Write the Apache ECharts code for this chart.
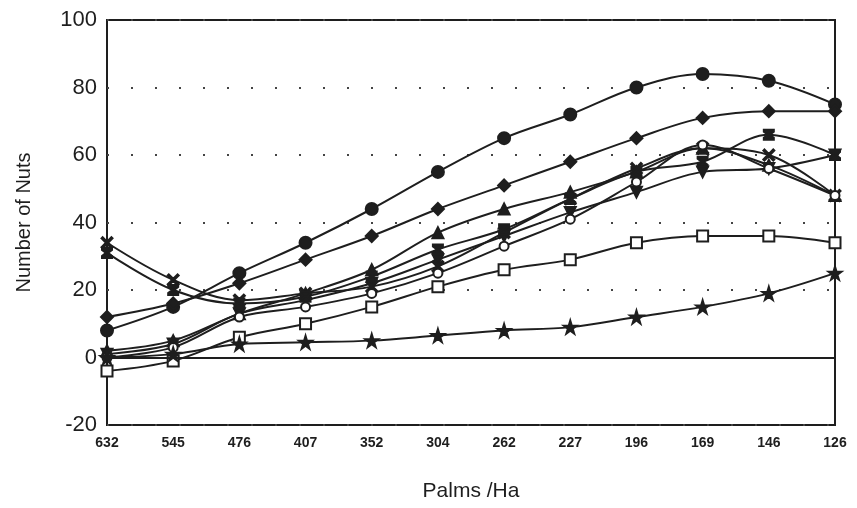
<!DOCTYPE html>
<html>
<head>
<meta charset="utf-8">
<script src="https://cdn.jsdelivr.net/npm/echarts@6/dist/echarts.min.js"></script>
<style>
  html, body { margin: 0; padding: 0; background: #fff; }
  #chart { width: 857px; height: 508px; }
</style>
</head>
<body>
<div id="chart"></div>
<script>
var palms = ['632', '545', '476', '407', '352', '304', '262', '227', '196', '169', '146', '126'];

var circleNuts   = [8, 15, 25, 34, 44, 55, 65, 72, 80, 84, 82, 75];
var diamondNuts  = [12, 16, 22, 29, 36, 44, 51, 58, 65, 71, 73, 73];
var triUpNuts    = [2, 5, 13, 19, 26, 37, 44, 49, 55, 62, 57, 48];
var triDownNuts  = [1, 4, 13, 17, 22, 29, 36, 43, 49, 55, 56, 60];
var crossNuts    = [34, 23, 17, 19, 21, 27, 37, 47, 56, 62, 60, 48];
var hourNuts     = [31, 20, 16, 18, 24, 32, 38, 47, 55, 58, 66, 60];
var openNuts     = [0, 3, 12, 15, 19, 25, 33, 41, 52, 63, 56, 48];
var boxNuts      = [-4, -1, 6, 10, 15, 21, 26, 29, 34, 36, 36, 34];
var starNuts     = [0, 1, 4, 4.5, 5, 6.5, 8, 9, 12, 15, 19, 25];

var ink = '#1e1e1e';

var starPath = 'path://M50,0 L61,35 L98,35 L68,57 L79,91 L50,70 L21,91 L32,57 L2,35 L39,35 Z';
var crossPath = 'path://M0,10 L10,0 L50,40 L90,0 L100,10 L60,50 L100,90 L90,100 L50,60 L10,100 L0,90 L40,50 Z';
var hourPath = 'path://M0,0 L100,0 L100,20 L60,50 L100,80 L100,100 L0,100 L0,80 L40,50 L0,20 Z';

function mk(name, data, symbol, size, fill) {
  return {
    name: name,
    type: 'line',
    smooth: 0.35,
    data: data,
    symbol: symbol,
    symbolSize: size,
    lineStyle: { color: ink, width: 2 },
    itemStyle: { color: fill || ink, borderColor: ink, borderWidth: 2 },
    z: 3
  };
}

var chart = echarts.init(document.getElementById('chart'));

var option = {
  backgroundColor: '#fff',
  animation: false,
  grid: {
    left: 107, right: 22, top: 20, bottom: 83,
    show: true, borderColor: ink, borderWidth: 2, backgroundColor: 'transparent'
  },
  xAxis: {
    type: 'category',
    data: palms,
    boundaryGap: false,
    name: 'Palms /Ha',
    nameLocation: 'middle',
    nameGap: 56,
    nameTextStyle: { fontFamily: 'Liberation Sans', fontSize: 21, color: ink },
    axisLine: { show: false },
    axisTick: { show: false },
    axisLabel: { fontFamily: 'Liberation Sans Narrow, Liberation Sans', fontSize: 14, fontWeight: 'bold', color: ink, margin: 11 },
    splitLine: { show: false }
  },
  yAxis: {
    type: 'value',
    min: -20,
    max: 100,
    interval: 20,
    name: 'Number of Nuts',
    nameLocation: 'middle',
    nameGap: 73,
    nameTextStyle: { fontFamily: 'Liberation Sans', fontSize: 20, color: ink },
    axisLine: { show: false },
    axisTick: { show: false },
    axisLabel: { fontFamily: 'Liberation Sans', fontSize: 22, color: ink, margin: 10 },
    splitLine: { show: true, lineStyle: { color: '#444', width: 2, type: [2, 22] } }
  },
  series: [
    mk('circle', circleNuts, 'circle', 12),
    mk('diamond', diamondNuts, 'diamond', 12),
    mk('triangle', triUpNuts, 'triangle', 11),
    mk('triangle down', triDownNuts, 'path://M0,0 L100,0 L50,90 Z', 11),
    mk('cross', crossNuts, crossPath, 11),
    mk('hourglass', hourNuts, hourPath, 10),
    mk('open circle', openNuts, 'circle', 9, '#fff'),
    mk('box', boxNuts, 'rect', 11, '#fff'),
    Object.assign(mk('star', starNuts, starPath, 13), {
      markLine: {
        silent: true,
        symbol: 'none',
        label: { show: false },
        lineStyle: { color: ink, width: 2, type: 'solid' },
        data: [{ yAxis: 0 }]
      }
    })
  ]
};

chart.setOption(option);
</script>
</body>
</html>
